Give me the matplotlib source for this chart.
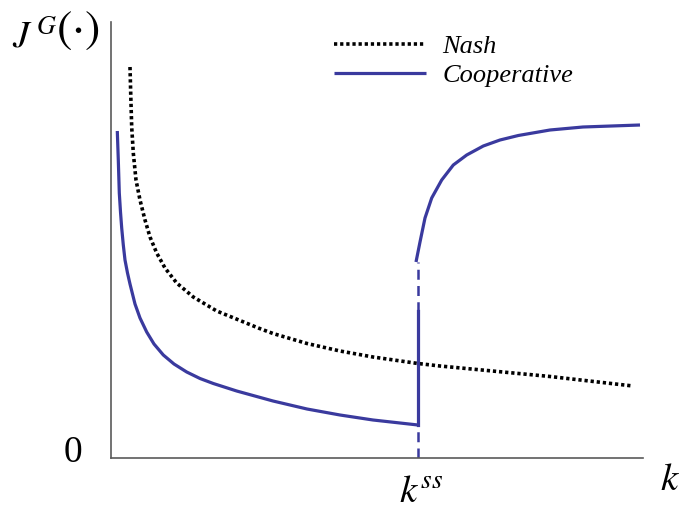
import matplotlib
matplotlib.use("Agg")
import matplotlib.pyplot as plt

plt.rcParams.update({
    "mathtext.fontset": "stix",
    "font.family": ["Liberation Serif", "DejaVu Serif"],
})

BLUE = "#3a3a9e"
AXIS_GRAY = "#5a5a5a"

# values (arbitrary units)
k_ss = 307
nash_k = [19, 19.7, 20.7, 22.3, 25, 29, 34, 39, 45.7, 54, 65.7, 82.3, 105.7, 129,
          147.3, 162, 196, 229, 262, 307, 329, 439, 522]
nash_j = [391, 365, 331, 305, 278, 258, 238, 221, 205, 190, 175, 161, 147, 137.5,
          130, 124.5, 114.5, 107, 101, 94.5, 92, 81.5, 72]

coop_low_k = [6.3, 7.3, 8.3, 9.5, 10.7, 12.3, 14, 16.5, 19, 24, 29, 35.7, 43, 52.3,
              63, 75.7, 89, 102.3, 125.7, 162, 196, 229, 262, 307]
coop_low_j = [327, 298, 265, 246, 230, 213, 198, 185, 174, 154, 140, 126, 114, 103,
              94, 86, 79.5, 74.5, 67, 57, 49, 43, 38, 33]

coop_high_k = [305, 309, 314, 320.7, 330.7, 342.3, 355.7, 372.3, 389, 407.3, 439, 472, 529]
coop_high_j = [196, 216, 240, 260, 278, 293, 303, 312, 318, 322.5, 328, 331, 333]

jump_solid = [33, 147]
jump_dashed = [0, 196]

fig = plt.figure(figsize=(6.83, 5.15), dpi=100)
ax = fig.add_axes([111 / 683, 57 / 515, 532 / 683, 436 / 515])

ax.plot(nash_k, nash_j, color="black", linewidth=2.6,
        linestyle=(0, (0.9, 0.8)), dash_capstyle="butt", label="Nash")
ax.plot(coop_low_k, coop_low_j, color=BLUE, linewidth=2.3,
        solid_capstyle="butt", solid_joinstyle="round", label="Cooperative")
ax.plot(coop_high_k, coop_high_j, color=BLUE, linewidth=2.3,
        solid_capstyle="butt", solid_joinstyle="round")
ax.plot([k_ss, k_ss], jump_dashed, color=BLUE, linewidth=1.8,
        linestyle=(0, (4, 2.5)))
ax.plot([k_ss, k_ss], jump_solid, color=BLUE, linewidth=2.3)

ax.set_xlim(0, 532)
ax.set_ylim(0, 436)
ax.set_xticks([])
ax.set_yticks([])
for side in ("top", "right"):
    ax.spines[side].set_visible(False)
for side in ("left", "bottom"):
    ax.spines[side].set_color(AXIS_GRAY)
    ax.spines[side].set_linewidth(1.2)

leg = ax.legend(loc="upper left", bbox_to_anchor=(334 / 683, 1 - 35 / 515),
                bbox_transform=fig.transFigure, frameon=False, borderpad=0,
                borderaxespad=0, handlelength=3.5, handletextpad=0.6,
                labelspacing=0.2, prop={"family": "Liberation Serif",
                                        "style": "italic", "size": 19})

# y-axis label: J^G with tall parentheses
fig.text(12 / 683, 1 - 38 / 515, r"$J^{\,G}$", fontsize=27,
         ha="left", va="center")
fig.text(56 / 683, 1 - 31 / 515, r"$(\cdot)$", fontsize=33,
         ha="left", va="center")
fig.text(73 / 683, 1 - 453 / 515, "0", fontsize=27, ha="center", va="center")
fig.text(670 / 683, 1 - 480 / 515, r"$k$", fontsize=28, ha="center", va="center")
fig.text(421 / 683, 1 - 492 / 515, r"$k^{ss}$", fontsize=28, ha="center", va="center")

fig.savefig("out.png", dpi=100)
